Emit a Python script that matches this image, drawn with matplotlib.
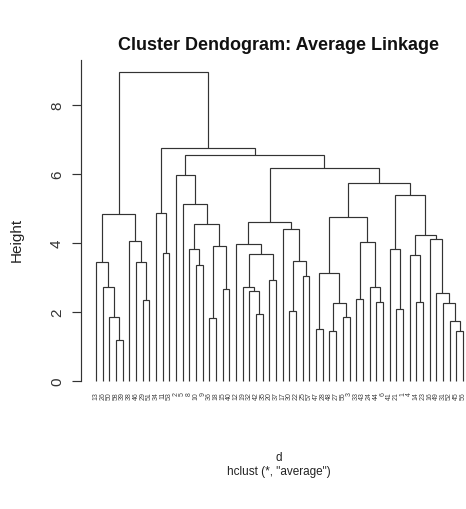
import matplotlib
matplotlib.use("Agg")
import matplotlib.pyplot as plt

plt.rcParams['font.family'] = ['Liberation Sans', 'DejaVu Sans']

# hclust style merge table: negative = observation, positive = earlier row (1-based)
merge_a = [-58, -50, -26, -13, -29, -46, -38, 4, -11, -34,
           -10, -8, -36, -15, 13, 12, -5, -2, -42, -32,
           -19, -20, 21, -12, -30, -25, 25, -17, 24, -47,
           -48, -55, 31, 30, -33, -44, -24, 35, 34, -21,
           -41, -14, -4, -45, -52, -31, -49, -16, 43, 41,
           39, 29, 18, 10, 8]
merge_b = [-39, 1, 2, 3, -51, 5, 6, 7, -53, 9,
           -9, 11, -18, -40, 14, 15, 16, 17, -35, 19,
           20, -37, 22, 23, -22, -57, 26, 27, 28, -28,
           -27, -3, 32, 33, -43, -6, 36, 37, 38, -1,
           40, -23, 42, -56, 44, 45, 46, 47, 48, 49,
           50, 51, 52, 53, 54]
heights = [1.18, 1.86, 2.72, 3.43, 2.35, 3.43, 4.05, 4.83, 3.69, 4.86,
           3.35, 3.82, 1.81, 2.67, 3.91, 4.54, 5.12, 5.95, 1.94, 2.61,
           2.72, 2.92, 3.66, 3.95, 2.02, 3.04, 3.48, 4.39, 4.60, 1.50,
           1.45, 1.86, 2.26, 3.13, 2.37, 2.29, 2.73, 4.03, 4.75, 2.08,
           3.81, 2.29, 3.64, 1.45, 1.74, 2.24, 2.55, 4.12, 4.22, 5.38,
           5.73, 6.17, 6.55, 6.74, 8.94]
yticks = [0, 2, 4, 6, 8]

n_merge = len(heights)
n_obs = n_merge + 1

# leaf order from the tree
order = []
def walk(k):
    for c in (merge_a[k], merge_b[k]):
        if c < 0:
            order.append(-c)
        else:
            walk(c - 1)
walk(n_merge - 1)
leaf_x = {lab: i for i, lab in enumerate(order)}

def node_pos(c):
    if c < 0:
        return leaf_x[-c], 0.0
    k = c - 1
    xa, _ = node_pos(merge_a[k])
    xb, _ = node_pos(merge_b[k])
    return (xa + xb) / 2, heights[k]

W, H = 466, 510
fig = plt.figure(figsize=(W / 100, H / 100), dpi=100)
ax = fig.add_axes([81.3 / W, 1 - 394 / H, (477.6 - 81.3) / W, (394 - 61) / H])

col = '#333333'
for k in range(n_merge):
    xa, ha = node_pos(merge_a[k])
    xb, hb = node_pos(merge_b[k])
    h = heights[k]
    ax.plot([xa, xa, xb, xb], [ha, h, h, hb], color=col, lw=0.85,
            solid_joinstyle='miter', solid_capstyle='butt')

hmax = max(heights)
pad = 0.04 * (n_obs - 1)
ax.set_xlim(-pad, n_obs - 1 + pad)
ax.set_ylim(-0.04 * hmax, hmax * 1.04)

for s in ['top', 'right', 'bottom']:
    ax.spines[s].set_visible(False)
ax.spines['left'].set_bounds(0, hmax * 1.04)
ax.spines['left'].set_color(col)
ax.spines['left'].set_linewidth(0.85)
ax.set_xticks([])
ax.set_yticks(yticks)
ax.set_yticklabels([str(t) for t in yticks], rotation=90, va='center')
ax.tick_params(axis='y', direction='out', length=6.5, width=0.85, pad=6,
               labelsize=11, colors=col)

# leaf labels, small and tight like the original
for lab, i in leaf_x.items():
    ax.annotate(str(lab), (i, 0), xytext=(0, -7.5), textcoords='offset points',
                rotation=90, ha='center', va='top', fontsize=5, color='#444444')

fig.text(279 / W, 1 - 46 / H, 'Cluster Dendogram: Average Linkage',
         ha='center', va='center', fontsize=13, fontweight='bold', color='#111111')
fig.text(17 / W, 1 - 240 / H, 'Height', rotation=90, ha='center', va='center',
         fontsize=11, color='#222222')
fig.text(279 / W, 1 - 458 / H, 'd', ha='center', va='center', fontsize=8.5, color='#222222')
fig.text(279 / W, 1 - 472 / H, 'hclust (*, "average")', ha='center', va='center',
         fontsize=8.5, color='#222222')

fig.savefig('out.png', dpi=100)
